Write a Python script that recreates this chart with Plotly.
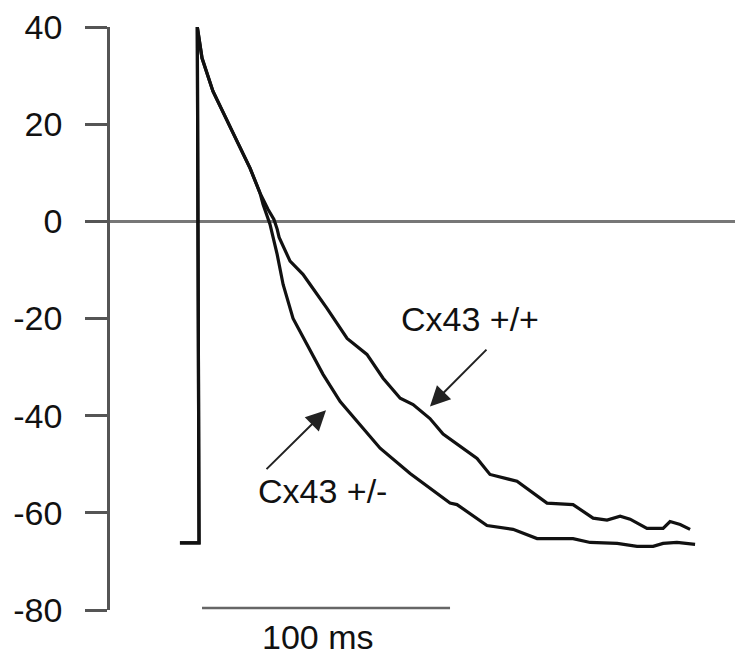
import plotly.graph_objects as go

# time (ms) and membrane potential (mV)
t_common = [-7.3, 0.4, -0.3, 1.6, 6.0, 10.1, 15.7, 21.0, 25.0]
v_common = [-66.2, -66.2, 40.0, 33.6, 26.8, 22.6, 16.5, 10.9, 5.8]

t_wt = [28.2, 30.6, 31.9, 32.7, 37.1, 42.3, 45.2, 52.0, 60.1, 68.1, 74.6, 81.5, 86.7,
        93.5, 98.8, 104.4, 106.9, 112.5, 117.7, 128.6, 140.7, 151.2, 159.3, 164.9,
        170.2, 174.2, 181.0, 187.5, 190.3, 194.4, 198.4]
v_wt = [2.5, 0.4, -1.6, -3.3, -8.2, -10.9, -13.0, -17.9, -24.1, -27.4, -32.3, -36.4, -37.7,
        -40.6, -43.8, -45.9, -46.9, -48.8, -52.1, -53.5, -58.0, -58.3, -61.1, -61.5,
        -60.7, -61.3, -63.2, -63.2, -61.8, -62.4, -63.4]

t_het = [26.2, 29.0, 31.9, 34.3, 38.3, 44.0, 50.4, 57.3, 64.1, 73.4, 85.5, 101.6, 104.4,
         116.5, 127.0, 136.7, 151.2, 158.1, 169.0, 177.0, 183.5, 187.5, 193.1, 200.4]
v_het = [3.5, -0.6, -6.8, -13.0, -20.0, -25.3, -31.5, -37.1, -41.2, -46.7, -51.9, -58.0, -58.3,
         -62.6, -63.4, -65.3, -65.3, -66.1, -66.3, -66.9, -66.9, -66.3, -66.1, -66.5]

y_ticks = [-80, -60, -40, -20, 0, 20, 40]
y_tick_text = ["-80", "-60", "-40", "-20", "0", "20", "40"]
labels = ["Cx43 +/+", "Cx43 +/-"]
scale_bar_ms = [1.6, 101.6]
scale_label = "100 ms"

FONT = "Liberation Sans, Arial, sans-serif"
FS = 34
fig = go.Figure()
fig.add_trace(go.Scatter(x=t_common + t_wt, y=v_common + v_wt, mode="lines",
                         line=dict(color="#111111", width=3.2), name=labels[0],
                         showlegend=False))
fig.add_trace(go.Scatter(x=t_common + t_het, y=v_common + v_het, mode="lines",
                         line=dict(color="#111111", width=3.2), name=labels[1],
                         showlegend=False))

# scale bar
fig.add_shape(type="line", xref="x", yref="y", x0=scale_bar_ms[0], x1=scale_bar_ms[1],
              y0=-79.6, y1=-79.6, line=dict(color="#666666", width=2.5))
fig.add_annotation(x=48.4, y=-0.046, xref="x", yref="paper",
                   yanchor="middle", text=scale_label, showarrow=False,
                   font=dict(family=FONT, size=FS, color="#111111"))

# labels
fig.add_annotation(x=109.5, y=-20.2, xref="x", yref="y", text=labels[0], showarrow=False,
                   font=dict(family=FONT, size=FS, color="#111111"))
fig.add_annotation(x=50.2, y=-55.6, xref="x", yref="y", text=labels[1], showarrow=False,
                   font=dict(family=FONT, size=FS, color="#111111"))
# arrows
fig.add_annotation(x=93.5, y=-38.1, ax=116.9, ay=-26.1, xref="x", yref="y", axref="x",
                   ayref="y", text="", showarrow=True, arrowhead=2, arrowsize=2,
                   arrowwidth=2, arrowcolor="#222222")
fig.add_annotation(x=51.6, y=-38.9, ax=27.0, ay=-51.3, xref="x", yref="y", axref="x",
                   ayref="y", text="", showarrow=True, arrowhead=2, arrowsize=2,
                   arrowwidth=2, arrowcolor="#222222")

fig.update_layout(
    width=750, height=660,
    margin=dict(l=110, r=15, t=27, b=50, autoexpand=False),
    paper_bgcolor="white", plot_bgcolor="white",
    showlegend=False,
    xaxis=dict(visible=False, range=[-35.5, 216.5]),
    yaxis=dict(range=[-80, 40], tickvals=y_ticks, ticktext=y_tick_text, ticks="outside",
               ticklen=22, automargin=False,
               tickwidth=2.5, tickcolor="#555555", showline=True, linecolor="#555555",
               linewidth=2.5, showgrid=False, zeroline=True, zerolinecolor="#777777",
               zerolinewidth=2.5, ticklabelstandoff=16,
               tickfont=dict(family=FONT, size=FS, color="#111111")),
)
fig.write_html("out.html", config={"displayModeBar": False},
               post_script="document.body.style.margin='0';document.body.style.overflow='hidden';")
